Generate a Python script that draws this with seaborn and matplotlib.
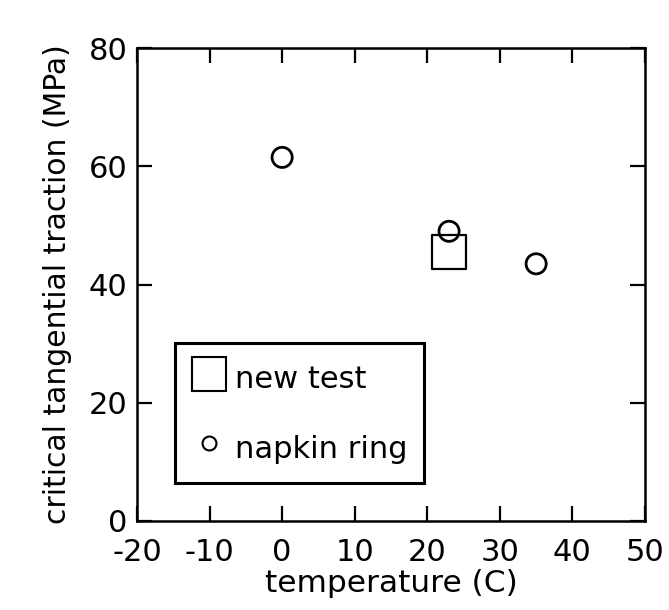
import matplotlib
matplotlib.use("Agg")
import matplotlib.pyplot as plt
import seaborn as sns
import pandas as pd
from matplotlib.lines import Line2D

# data
new_test_temp = [23]
new_test_traction = [45.5]
napkin_temp = [0, 23, 35]
napkin_traction = [61.5, 49, 43.5]
x_ticks = [-20, -10, 0, 10, 20, 30, 40, 50]
y_ticks = [0, 20, 40, 60, 80]

sns.set_theme(style="ticks")
plt.rcParams['font.family'] = ['DejaVu Sans']
plt.rcParams['axes.unicode_minus'] = False
plt.rcParams['text.color'] = 'black'
plt.rcParams['axes.labelcolor'] = 'black'

fig = plt.figure(figsize=(6.69, 6.10), dpi=100)
ax = fig.add_axes([137/669, 1-521/610, (645-137)/669, (521-48)/610])

df_new = pd.DataFrame({"t": new_test_temp, "v": new_test_traction})
df_nap = pd.DataFrame({"t": napkin_temp, "v": napkin_traction})

sns.scatterplot(data=df_new, x="t", y="v", marker="s", s=24**2, facecolor="white",
                edgecolor="black", linewidth=1.6, ax=ax, zorder=3)
sns.scatterplot(data=df_nap, x="t", y="v", marker="o", s=14.5**2, facecolor="none",
                edgecolor="black", linewidth=2.0, ax=ax, zorder=4)

ax.set_xlim(-20, 50)
ax.set_ylim(0, 80)
ax.set_xticks(x_ticks)
ax.set_yticks(y_ticks)
ax.tick_params(direction="in", length=11, width=1.6, top=True, right=True,
               labelsize=22, colors="black")
ax.tick_params(axis="x", pad=12)
ax.tick_params(axis="y", pad=7)
for s in ax.spines.values():
    s.set_linewidth(1.8)
    s.set_color("black")
    s.set_visible(True)

ax.set_xlabel("temperature (C)", fontsize=22.5, labelpad=2, color="black")
ax.set_ylabel("critical tangential traction (MPa)", fontsize=21.5, labelpad=12, color="black")

handles = [
    Line2D([], [], marker="s", linestyle="none", markersize=24, markerfacecolor="white",
           markeredgecolor="black", markeredgewidth=1.5, label="new test"),
    Line2D([], [], marker="o", linestyle="none", markersize=10, markerfacecolor="white",
           markeredgecolor="black", markeredgewidth=1.5, label="napkin ring"),
]
leg = ax.legend(handles=handles, loc="lower left", bbox_to_anchor=((175-137)/508, (521-483)/473),
                fontsize=22, frameon=True, fancybox=False, handletextpad=0.3,
                labelspacing=1.05, borderpad=0.55, handlelength=1.1, handleheight=1.5,
                borderaxespad=0)
leg.get_frame().set_edgecolor("black")
leg.get_frame().set_linewidth(2.2)
leg.get_frame().set_alpha(1)
for t in leg.get_texts():
    t.set_color("black")

fig.savefig("out.png", dpi=100)
